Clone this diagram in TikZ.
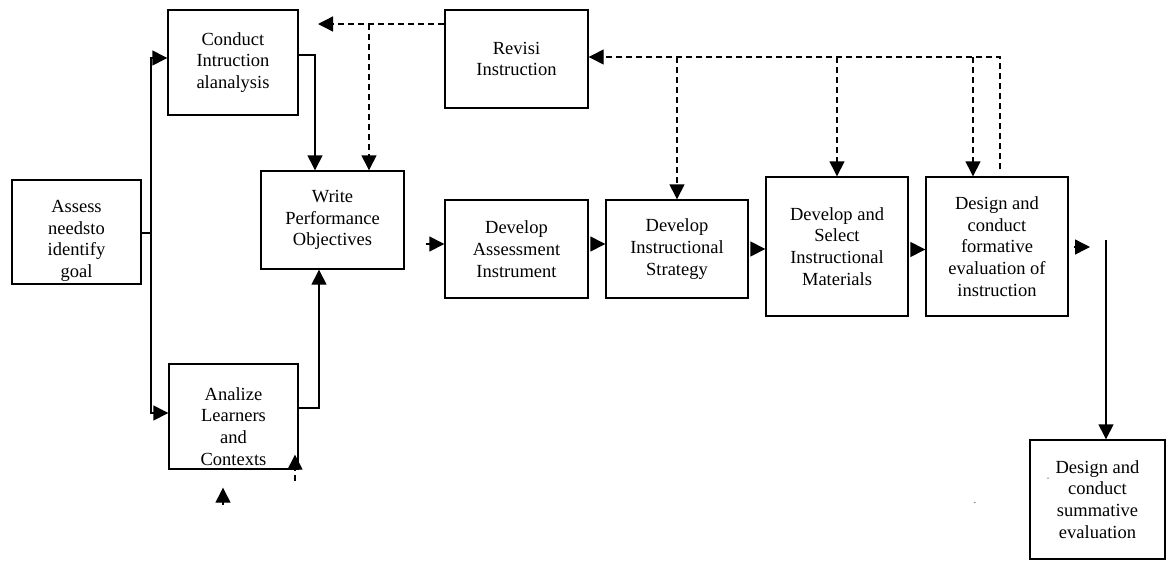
\documentclass[tikz,border=0pt]{standalone}
\usepackage{fontspec}
\setmainfont{Liberation Serif}
\usepackage{tikz}
\usetikzlibrary{arrows.meta,positioning}

\newcommand{\boxfont}{\fontsize{18.5}{21.7}\selectfont}

\begin{document}
\begin{tikzpicture}[x=1pt,y=-1pt,>={Triangle[length=15pt,width=15pt]},line width=1.4pt,
  stage/.style={draw,rectangle,align=center,font=\boxfont,inner sep=0pt},
  feedback/.style={dash pattern=on 6pt off 4pt}]
    \useasboundingbox (0,0) rectangle (1167,560);
    \node[stage,minimum width=129pt,minimum height=104pt,
      label={[font=\boxfont,align=center,yshift=-9pt]center:{Assess\\needsto\\identify\\goal}}] (assess) at (76.5,232) {};
    \node[stage,minimum width=130pt,minimum height=105pt] (conduct) at (233,62.5) {Conduct\\Intruction\\alanalysis};
    \node[stage,minimum width=129pt,minimum height=105pt,
      label={[font=\boxfont,align=center,yshift=-10pt]center:{Analize\\Learners\\and\\Contexts}}] (analize) at (233.5,416.5) {};
    \node[stage,minimum width=143pt,minimum height=98pt] (write) at (332.5,220) {Write\\Performance\\Objectives};
    \node[stage,minimum width=143pt,minimum height=98pt] (revisi) at (516.5,59) {Revisi\\Instruction};
    \node[stage,minimum width=143pt,minimum height=98pt] (devassess) at (516.5,249) {Develop\\Assessment\\Instrument};
    \node[stage,minimum width=142pt,minimum height=98pt] (strategy) at (677,249) {Develop\\Instructional\\Strategy};
    \node[stage,minimum width=142pt,minimum height=139pt] (select) at (837,246.5) {Develop and\\Select\\Instructional\\Materials};
    \node[stage,minimum width=142pt,minimum height=139pt] (formative) at (997,246.5) {Design and\\conduct\\formative\\evaluation of\\instruction};
    \node[stage,minimum width=135pt,minimum height=119pt] (summ) at (1097.5,499.5) {Design and\\conduct\\summative\\evaluation};
    \node[font=\tiny] (markA) at (1048,480) {''};
    \node[font=\small] (markB) at (975,503) {.};

    % main flow
    \coordinate (split) at (151,233);
    \coordinate (fout) at (1090,247);
    \coordinate (drop) at (1106,240);
    \draw (assess.east |- split) -- (split);
    \draw[->] (split) |- ([yshift=4.5pt]conduct.west);
    \draw[->] (split) |- ([yshift=3.5pt]analize.west);
    \draw[->] ([yshift=7.5pt]conduct.east) -| ([xshift=-17.5pt]write.north);
    \draw[->] ([yshift=8.5pt]analize.east) -| ([xshift=-13.5pt]write.south);
    \draw[->,shorten <=21pt] ([yshift=5pt]devassess.west -| write.east) -- ([yshift=5pt]devassess.west);
    \draw[->,shorten <=4pt] ([yshift=5pt]devassess.east) -- ([yshift=5pt]strategy.west);
    \draw[->,shorten <=4pt] (strategy.east) -- (strategy.east -| select.west);
    \draw[->,shorten <=2pt] ([yshift=-3pt]select.east) -- ([yshift=-3pt]formative.west);
    \draw[->,shorten <=5pt] (formative.east |- fout) -- (fout);
    \draw[->] (drop) -- (drop |- summ.north);

    % revision loop
    \coordinate (rv) at (318,24);
    \coordinate (fb) at (1000,57);
    \draw[feedback,->] ([yshift=35pt]revisi.west) -- (rv);
    \draw[feedback,->] ([xshift=36.5pt]write.north |- rv) -- ([xshift=36.5pt]write.north);
    \draw[feedback,->] ([xshift=3pt,yshift=7pt]formative.north) |- ([yshift=2pt]revisi.east);
    \foreach \n/\dx in {strategy/0,select/0,formative/-24}
      \draw[feedback,->] ([xshift=\dx pt]\n.north |- fb) -- ([xshift=\dx pt]\n.north);
    \draw[feedback,->] ([xshift=61.5pt,yshift=-11pt]analize.south) -- ([xshift=61.5pt,yshift=15pt]analize.south);
    \draw[feedback,->] ([xshift=-10.5pt,yshift=-35pt]analize.south) -- ([xshift=-10.5pt,yshift=-18pt]analize.south);
\end{tikzpicture}
\end{document}
